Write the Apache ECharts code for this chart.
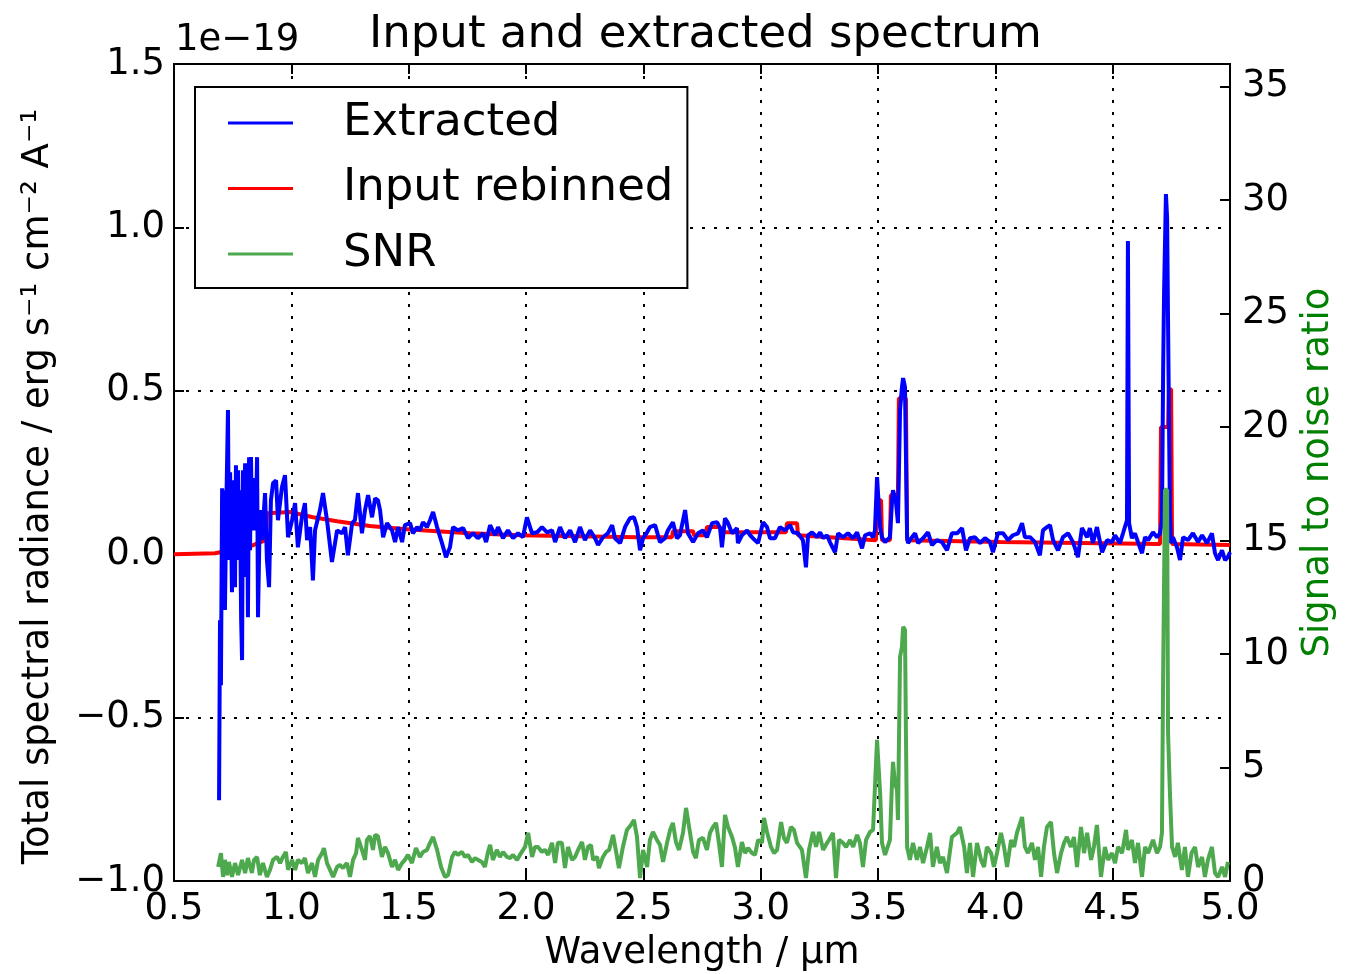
<!DOCTYPE html>
<html>
<head>
<meta charset="utf-8">
<script src="https://cdn.jsdelivr.net/npm/echarts@6/dist/echarts.min.js"></script>
<style>html,body{margin:0;padding:0;background:#fff;overflow:hidden;}#c{width:1348px;height:974px;}</style>
</head>
<body>
<div id="c"></div>
<script>
// ---- data (flux in units of 1e-19, wavelength in µm) ----
const extWl = [0.692,0.696,0.700,0.705,0.709,0.713,0.717,0.722,0.730,0.734,0.739,0.743,0.747,0.751,0.756,0.760,0.764,0.768,0.773,0.777,0.781,0.786,0.790,0.794,0.798,0.803,0.807,0.811,0.815,0.820,0.824,0.828,0.832,0.837,0.841,0.845,0.849,0.854,0.858,0.866,0.875,0.888,0.896,0.905,0.913,0.922,0.935,0.943,0.960,0.973,0.986,1.003,1.016,1.028,1.045,1.058,1.067,1.080,1.092,1.101,1.122,1.135,1.152,1.173,1.195,1.216,1.229,1.241,1.259,1.271,1.284,1.301,1.314,1.327,1.344,1.357,1.369,1.378,1.391,1.408,1.429,1.442,1.455,1.472,1.484,1.506,1.518,1.536,1.548,1.561,1.578,1.591,1.604,1.621,1.642,1.659,1.676,1.689,1.710,1.732,1.753,1.774,1.795,1.817,1.830,1.847,1.868,1.881,1.902,1.923,1.945,1.966,1.987,2.004,2.026,2.047,2.068,2.090,2.111,2.124,2.145,2.166,2.188,2.209,2.230,2.251,2.273,2.294,2.307,2.328,2.349,2.367,2.379,2.401,2.422,2.443,2.460,2.473,2.486,2.499,2.516,2.528,2.550,2.571,2.592,2.605,2.626,2.643,2.656,2.678,2.690,2.712,2.733,2.754,2.771,2.793,2.814,2.827,2.835,2.848,2.861,2.878,2.899,2.903,2.920,2.942,2.955,2.967,2.989,3.010,3.027,3.040,3.061,3.082,3.104,3.125,3.138,3.159,3.180,3.193,3.202,3.219,3.240,3.253,3.266,3.283,3.295,3.317,3.330,3.351,3.372,3.394,3.411,3.432,3.445,3.466,3.479,3.487,3.496,3.500,3.509,3.517,3.530,3.551,3.560,3.564,3.577,3.585,3.594,3.602,3.607,3.615,3.624,3.628,3.645,3.658,3.671,3.692,3.713,3.730,3.751,3.773,3.794,3.815,3.837,3.858,3.875,3.892,3.913,3.935,3.956,3.977,3.990,4.011,4.033,4.054,4.075,4.097,4.114,4.126,4.148,4.169,4.190,4.203,4.220,4.233,4.246,4.267,4.288,4.310,4.331,4.352,4.369,4.391,4.403,4.416,4.433,4.455,4.476,4.497,4.510,4.531,4.544,4.561,4.565,4.570,4.582,4.595,4.608,4.625,4.638,4.651,4.672,4.689,4.702,4.710,4.715,4.719,4.727,4.732,4.736,4.744,4.749,4.757,4.774,4.787,4.800,4.821,4.842,4.864,4.881,4.902,4.923,4.936,4.949,4.966,4.979,4.991,5.000];
const extVal = [-0.753,-0.202,-0.401,0.202,-0.080,0.196,-0.171,0.104,0.441,-0.018,0.251,0.104,-0.116,0.104,0.226,-0.101,0.272,-0.018,0.257,0.012,0.196,-0.196,-0.324,0.257,-0.018,0.278,-0.070,0.272,-0.193,0.297,0.012,0.297,0.104,0.233,0.073,0.165,0.104,0.297,-0.193,0.135,0.043,0.187,-0.018,-0.101,0.165,0.217,0.226,0.104,0.205,0.242,0.052,0.104,0.156,0.021,0.113,0.156,0.043,0.083,-0.080,0.073,0.135,0.187,0.104,-0.024,0.073,0.064,0.083,-0.003,0.095,0.104,0.187,0.064,0.135,0.181,0.113,0.171,0.165,0.135,0.052,0.095,0.073,0.037,0.083,0.037,0.089,0.095,0.064,0.083,0.073,0.098,0.083,0.104,0.129,0.083,0.034,-0.009,0.021,0.083,0.073,0.080,0.049,0.064,0.049,0.064,0.037,0.089,0.058,0.083,0.049,0.073,0.049,0.064,0.052,0.113,0.064,0.067,0.083,0.067,0.073,0.037,0.083,0.049,0.073,0.037,0.083,0.043,0.073,0.049,0.028,0.052,0.064,0.089,0.049,0.034,0.083,0.110,0.113,0.083,0.012,0.049,0.067,0.083,0.089,0.037,0.049,0.073,0.098,0.049,0.058,0.135,0.064,0.037,0.064,0.073,0.052,0.095,0.098,0.080,0.021,0.110,0.095,0.064,0.080,0.034,0.058,0.073,0.058,0.049,0.034,0.098,0.083,0.049,0.049,0.083,0.073,0.089,0.067,0.064,0.043,-0.040,0.058,0.067,0.052,0.067,0.049,0.058,0.037,0.006,0.064,0.052,0.064,0.049,0.067,0.018,0.058,0.064,0.052,0.073,0.236,0.187,0.083,0.052,0.037,0.052,0.165,0.196,0.156,0.095,0.441,0.511,0.539,0.511,0.052,0.034,0.052,0.064,0.034,0.049,0.067,0.028,0.043,0.037,0.012,0.064,0.064,0.080,0.012,0.049,0.052,0.034,0.049,0.037,0.006,0.064,0.064,0.043,0.058,0.064,0.095,0.052,0.052,0.037,-0.003,0.073,0.083,0.089,0.043,0.012,0.052,0.064,0.037,-0.009,0.080,0.052,0.080,0.034,0.083,0.006,0.043,0.037,0.058,0.034,0.064,0.104,0.958,0.095,0.049,0.064,0.037,0.003,0.052,0.043,0.067,0.052,0.064,0.104,0.554,0.799,1.102,1.028,0.707,0.125,0.034,0.052,0.021,-0.018,0.052,0.043,0.064,0.037,0.058,0.034,0.064,0.003,-0.018,0.012,-0.018,-0.009,0.006];

const inWl = [0.500,0.675,0.717,0.747,0.824,0.858,0.892,0.896,0.994,1.092,1.195,1.335,1.476,1.621,1.761,1.974,2.473,2.622,2.626,2.712,2.716,2.767,2.771,2.827,2.831,3.108,3.112,3.155,3.159,3.491,3.496,3.513,3.517,3.551,3.555,3.585,3.589,3.619,3.624,4.020,4.702,4.706,4.736,4.740,4.749,4.753,5.000];
const inVal = [0.000,0.003,0.009,0.018,0.024,0.034,0.043,0.125,0.129,0.113,0.101,0.086,0.077,0.070,0.064,0.058,0.052,0.052,0.070,0.070,0.058,0.058,0.083,0.083,0.067,0.067,0.095,0.095,0.058,0.043,0.165,0.165,0.043,0.043,0.181,0.181,0.477,0.477,0.043,0.037,0.031,0.389,0.389,0.505,0.505,0.031,0.028];

const snrWl = [0.688,0.700,0.709,0.717,0.726,0.734,0.747,0.760,0.773,0.790,0.803,0.815,0.832,0.841,0.854,0.866,0.879,0.896,0.909,0.922,0.939,0.952,0.964,0.977,0.986,1.003,1.016,1.028,1.045,1.058,1.071,1.088,1.101,1.114,1.131,1.139,1.152,1.165,1.178,1.195,1.207,1.220,1.237,1.250,1.263,1.276,1.284,1.301,1.314,1.322,1.335,1.348,1.357,1.369,1.386,1.399,1.412,1.429,1.442,1.455,1.472,1.484,1.497,1.514,1.531,1.548,1.561,1.578,1.591,1.604,1.621,1.638,1.655,1.668,1.685,1.697,1.710,1.727,1.740,1.753,1.770,1.783,1.795,1.812,1.825,1.838,1.847,1.859,1.876,1.889,1.902,1.919,1.932,1.945,1.962,1.974,1.996,2.009,2.026,2.038,2.051,2.068,2.081,2.094,2.111,2.124,2.136,2.153,2.166,2.179,2.196,2.209,2.222,2.239,2.251,2.264,2.277,2.286,2.303,2.311,2.328,2.341,2.354,2.371,2.384,2.396,2.413,2.430,2.447,2.460,2.473,2.486,2.499,2.516,2.528,2.541,2.558,2.571,2.584,2.601,2.614,2.626,2.639,2.652,2.669,2.682,2.695,2.712,2.724,2.737,2.754,2.771,2.784,2.797,2.810,2.822,2.835,2.848,2.861,2.878,2.891,2.903,2.920,2.933,2.946,2.963,2.976,2.989,3.006,3.014,3.027,3.044,3.057,3.070,3.087,3.099,3.112,3.129,3.142,3.155,3.176,3.193,3.206,3.223,3.236,3.249,3.266,3.278,3.291,3.308,3.321,3.334,3.351,3.364,3.381,3.394,3.411,3.423,3.436,3.449,3.466,3.479,3.487,3.496,3.500,3.509,3.517,3.530,3.551,3.560,3.564,3.572,3.581,3.585,3.594,3.602,3.607,3.615,3.619,3.624,3.636,3.649,3.666,3.679,3.692,3.709,3.722,3.734,3.751,3.764,3.777,3.794,3.815,3.837,3.849,3.867,3.879,3.892,3.905,3.922,3.939,3.952,3.964,3.982,3.994,4.007,4.024,4.037,4.050,4.067,4.080,4.092,4.114,4.126,4.139,4.156,4.169,4.182,4.195,4.207,4.220,4.237,4.250,4.263,4.280,4.293,4.305,4.322,4.335,4.348,4.365,4.378,4.391,4.408,4.420,4.433,4.450,4.467,4.480,4.497,4.510,4.523,4.540,4.557,4.565,4.582,4.595,4.608,4.625,4.638,4.651,4.672,4.689,4.702,4.710,4.715,4.723,4.732,4.736,4.744,4.753,4.766,4.778,4.795,4.808,4.821,4.836,4.851,4.864,4.881,4.893,4.906,4.923,4.936,4.949,4.966,4.979,4.991];
const snrVal = [0.62,1.23,0.18,0.93,0.26,0.84,0.18,0.79,0.26,0.93,0.35,1.01,0.35,0.93,1.06,0.26,0.79,0.18,0.49,0.93,1.06,0.79,1.06,1.28,0.49,0.93,0.49,0.93,0.79,1.01,0.35,0.79,0.18,0.93,1.23,1.45,0.79,0.49,0.18,0.62,0.71,0.57,0.79,0.18,0.93,1.23,1.90,1.37,0.93,1.81,1.98,1.37,2.03,1.98,1.06,1.50,1.23,0.62,0.93,0.49,0.79,0.93,1.15,0.79,1.45,1.06,1.28,1.37,1.68,1.94,1.37,0.62,0.18,0.26,1.06,1.28,1.15,1.28,1.06,1.15,0.84,1.01,0.93,0.84,0.62,1.28,1.59,0.93,1.37,1.06,1.28,1.06,1.01,1.15,0.93,1.15,1.50,2.12,1.06,1.50,1.50,1.28,1.37,1.15,1.68,0.79,1.68,1.68,0.57,1.50,0.93,1.06,1.37,1.72,0.93,1.50,1.59,0.93,1.06,0.57,1.06,1.28,1.37,2.03,1.28,0.57,1.50,2.25,2.47,2.69,1.94,0.13,1.37,0.62,1.81,2.16,1.81,1.59,0.84,1.68,2.25,2.56,1.72,1.37,2.12,3.22,2.38,1.28,1.01,1.81,1.90,1.37,2.12,2.38,2.56,1.68,0.62,2.91,2.38,1.94,1.45,0.62,1.72,1.23,1.45,1.23,1.15,1.81,1.68,2.78,2.16,1.50,1.23,1.37,2.60,1.90,1.68,2.38,2.25,1.68,1.37,0.13,1.37,2.16,1.50,2.16,1.37,1.59,1.81,2.12,0.13,1.81,1.68,1.50,1.81,1.50,2.03,1.68,0.62,1.81,2.16,2.25,4.14,6.22,5.47,3.88,1.68,1.15,1.81,4.45,5.25,4.32,4.01,2.69,9.88,10.32,11.20,11.07,6.53,1.50,0.93,1.68,0.93,1.50,0.79,1.50,2.12,0.62,1.50,0.79,1.06,0.35,1.94,2.12,2.38,1.50,0.35,1.68,0.18,1.68,0.93,0.62,1.50,1.23,0.62,1.23,2.12,1.50,0.62,1.81,1.50,2.12,2.82,1.50,1.23,1.68,0.93,1.50,0.18,1.50,2.38,2.60,1.23,0.35,1.23,1.68,1.94,1.50,1.94,0.62,2.38,1.23,2.12,0.93,1.50,2.47,0.18,1.50,0.93,1.23,0.79,1.50,1.23,2.25,1.37,1.81,0.79,1.68,0.18,1.50,1.23,1.81,1.23,1.50,2.12,8.99,17.24,17.24,6.53,3.88,1.50,1.06,1.68,0.49,1.50,0.18,1.23,1.50,0.62,1.06,0.18,0.93,1.50,0.35,0.18,0.62,0.18,0.84];

const xTicks = {min: 0.5, max: 5.0, interval: 0.5};
const yLeftTicks = {min: -1.0, max: 1.5, interval: 0.5};
const yRightTicks = {min: 0, max: 36, interval: 5};

const FONT = 'DejaVu Sans';
const AX = 37;   // axis font size
const BIG = 45;  // title / legend font size
const pair = (xs, ys) => xs.map((x, i) => [x, ys[i]]);
const minus = s => String(s).replace('-', '\u2212');

const chart = echarts.init(document.getElementById('c'), null, {renderer: 'canvas'});
const grid = {show: true, left: 174, right: 118, top: 64, bottom: 93, borderColor: '#000', borderWidth: 2,
  backgroundColor: '#fff', containLabel: false, outerBoundsMode: 'none'};
const dotted = {show: true, lineStyle: {color: '#000', width: 2, type: [3, 9]}};
const axLine = {show: true, onZero: false, lineStyle: {color: '#000', width: 2}};
const tick = {show: true, inside: true, length: 10, lineStyle: {color: '#000', width: 2}};

chart.setOption({
  animation: false,
  backgroundColor: '#fff',
  title: {
    text: 'Input and extracted spectrum',
    left: 364, top: 8,
    textStyle: {fontFamily: FONT, fontSize: BIG, fontWeight: 'normal', color: '#000'}
  },
  legend: {
    data: ['Extracted', 'Input rebinned', 'SNR'],
    orient: 'vertical',
    left: 195, top: 87,
    padding: [11, 14, 9, 33],
    backgroundColor: '#fff',
    borderColor: '#000', borderWidth: 2, borderRadius: 0,
    icon: 'rect', itemWidth: 65, itemHeight: 3, itemGap: 15.5,
    textStyle: {fontFamily: FONT, fontSize: BIG, color: '#000', lineHeight: 50, padding: [0, 0, 0, 45]}
  },
  grid: grid,
  xAxis: [{
    type: 'value', min: xTicks.min, max: xTicks.max, interval: xTicks.interval, position: 'bottom',
    name: 'Wavelength / \u00b5m', nameLocation: 'middle', nameGap: 54,
    nameTextStyle: {fontFamily: FONT, fontSize: AX, color: '#000'},
    axisLine: axLine, axisTick: tick,
    axisLabel: {fontFamily: FONT, fontSize: AX, color: '#000', margin: 10, formatter: v => v.toFixed(1)},
    splitLine: dotted
  }, {
    type: 'value', min: xTicks.min, max: xTicks.max, interval: xTicks.interval, position: 'top',
    axisLine: axLine, axisTick: tick,
    axisLabel: {show: false},
    splitLine: {show: false}
  }],
  yAxis: [{
    type: 'value', min: yLeftTicks.min, max: yLeftTicks.max, interval: yLeftTicks.interval, position: 'left',
    name: 'Total spectral radiance / erg s\u207b\u00b9 cm\u207b\u00b2 A\u207b\u00b9',
    nameLocation: 'middle', nameGap: 117, nameRotate: 90,
    nameTextStyle: {fontFamily: FONT, fontSize: AX, color: '#000', padding: [0, 28, 0, 0]},
    axisLine: axLine, axisTick: tick,
    axisLabel: {fontFamily: FONT, fontSize: AX, color: '#000', margin: 9, formatter: v => minus(v.toFixed(1))},
    splitLine: dotted
  }, {
    type: 'value', min: yRightTicks.min, max: yRightTicks.max, interval: yRightTicks.interval, position: 'right',
    name: 'Signal to noise ratio', nameLocation: 'middle', nameGap: 70, nameRotate: 90,
    nameTextStyle: {fontFamily: FONT, fontSize: AX, color: '#008000'},
    axisLine: axLine, axisTick: tick,
    axisLabel: {fontFamily: FONT, fontSize: AX, color: '#000', margin: 12, showMaxLabel: false,
      formatter: v => (v % 5 === 0 ? String(v) : '')},
    splitLine: {show: false}
  }],
  graphic: [{
    type: 'text', left: 175, top: 22, z: 100,
    style: {text: '1e\u221219', font: AX + 'px "DejaVu Sans"', fill: '#000'}
  }],
  series: [{
    name: 'Input rebinned', type: 'line', xAxisIndex: 0, yAxisIndex: 0,
    data: pair(inWl, inVal), showSymbol: false, symbol: 'none',
    lineStyle: {color: '#ff0000', width: 4}, itemStyle: {color: '#ff0000'}, z: 2
  }, {
    name: 'Extracted', type: 'line', xAxisIndex: 0, yAxisIndex: 0,
    data: pair(extWl, extVal), showSymbol: false, symbol: 'none',
    lineStyle: {color: '#0000ff', width: 4}, itemStyle: {color: '#0000ff'}, z: 3
  }, {
    name: 'SNR', type: 'line', xAxisIndex: 0, yAxisIndex: 1,
    data: pair(snrWl, snrVal), showSymbol: false, symbol: 'none',
    lineStyle: {color: '#4ea84e', width: 4}, itemStyle: {color: '#4ea84e'}, z: 4
  }]
});
</script>
</body>
</html>
